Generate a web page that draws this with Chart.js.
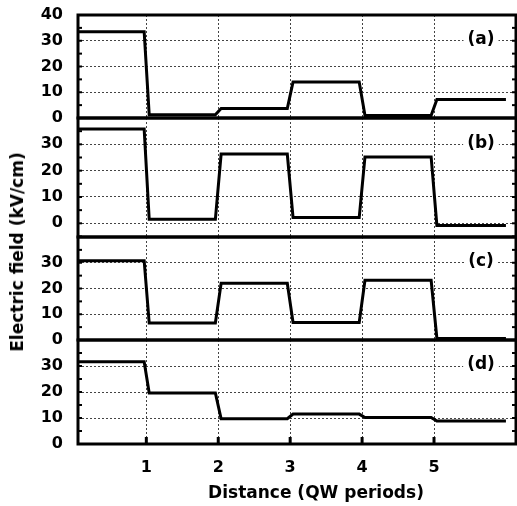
<!DOCTYPE html>
<html lang="en">
<head>
<meta charset="UTF-8">
<title>Electric field vs distance</title>
<style>
  body { margin: 0; background: #fff; }
  #wrap {
    position: relative;
    width: 517px;
    height: 506px;
    overflow: hidden;
    font-family: "DejaVu Sans", sans-serif;
    font-weight: bold;
    color: #000;
  }
  #wrap canvas { position: absolute; left: 0; }
  .axis-title { position: absolute; font-size: 17px; white-space: nowrap; }
  #xTitle { left: 316px; top: 492px; transform: translate(-50%, -50%); }
  #yTitle { left: 17px; top: 252px; transform: translate(-50%, -50%) rotate(-90deg); }
</style>
</head>
<body>
<div id="wrap">
  <canvas id="panelA"></canvas>
  <canvas id="panelB"></canvas>
  <canvas id="panelC"></canvas>
  <canvas id="panelD"></canvas>
  <div class="axis-title" id="yTitle">Electric field (kV/cm)</div>
  <div class="axis-title" id="xTitle">Distance (QW periods)</div>
</div>

<script src="https://cdn.jsdelivr.net/npm/chart.js"></script>
<script>
// data
const xTicks = [1, 2, 3, 4, 5];
const yTicks = [-5, 0, 5, 10, 15, 20, 25, 30, 35, 40];
const segStart = [0.05, 1.04, 2.04, 3.04, 4.04, 5.04];
const segEnd = [0.97, 1.96, 2.96, 3.96, 4.96, 6.0];
const fieldA = [33.5, 1.3, 3.7, 14, 1, 7.2];
const fieldB = [35.8, 1.5, 26.3, 2.2, 25.2, -0.8];
const fieldC = [30.8, 6.6, 22, 6.8, 23.2, 0.6];
const fieldD = [31.6, 19.6, 9.7, 11.5, 10.2, 8.8];
const panelLabels = ['(a)', '(b)', '(c)', '(d)'];

const FONT = "'DejaVu Sans', sans-serif";
const PAD = 12;
const X_MIN = 0.05, X_MAX = 6.14;

// panel boxes in page pixels
const boxes = [
  { id: 'panelA', top: 15,  bottom: 118, yMin: 0,    showTop: true,  zeroGrid: false },
  { id: 'panelB', top: 118, bottom: 237, yMin: -5.2, showTop: false, zeroGrid: true },
  { id: 'panelC', top: 237, bottom: 340, yMin: 0,    showTop: false, zeroGrid: false },
  { id: 'panelD', top: 340, bottom: 444, yMin: 0,    showTop: false, zeroGrid: false }
];
const series = [fieldA, fieldB, fieldC, fieldD];

function stepPoints(levels) {
  const pts = [];
  levels.forEach((v, i) => {
    pts.push({ x: segStart[i], y: v });
    pts.push({ x: segEnd[i], y: v });
  });
  return pts;
}

const framePlugin = {
  id: 'frame',
  afterDraw(chart, args, opts) {
    const { ctx, chartArea: a, scales: { x, y } } = chart;
    ctx.save();
    ctx.strokeStyle = '#000';
    ctx.setLineDash([]);
    const seg = (x1, y1, x2, y2) => {
      ctx.beginPath(); ctx.moveTo(x1, y1); ctx.lineTo(x2, y2); ctx.stroke();
    };
    ctx.lineWidth = 2;
    y.ticks.forEach(t => {
      if (t.value <= y.min || t.value >= y.max) return;
      const py = y.getPixelForValue(t.value);
      seg(a.left, py, a.left + 4, py);
      seg(a.right - 4, py, a.right, py);
    });
    if (opts.bottomTicks) {
      ctx.lineWidth = 3;
      xTicks.forEach(v => {
        const px = x.getPixelForValue(v);
        seg(px, a.bottom, px, a.bottom - 7);
      });
    }
    ctx.lineWidth = 3;
    ctx.strokeRect(a.left, a.top, a.right - a.left, a.bottom - a.top);

    // panel tag on the 30 grid line
    ctx.font = 'bold 17px ' + FONT;
    ctx.textAlign = 'center';
    ctx.textBaseline = 'middle';
    const tx = 481, ty = y.getPixelForValue(30) - 1;
    const w = ctx.measureText(opts.label).width;
    ctx.fillStyle = '#fff';
    ctx.fillRect(tx - w / 2 - 4, ty - 10, w + 8, 20);
    ctx.fillStyle = '#000';
    ctx.fillText(opts.label, tx, ty);
    ctx.restore();
  }
};

boxes.forEach((b, i) => {
  const isLast = i === boxes.length - 1;
  const canvas = document.getElementById(b.id);
  const h = (b.bottom - b.top) + PAD + (isLast ? 506 - b.bottom : PAD);
  canvas.width = 517;
  canvas.height = h;
  canvas.style.top = (b.top - PAD) + 'px';

  new Chart(canvas, {
    type: 'line',
    data: {
      datasets: [{
        label: panelLabels[i],
        data: stepPoints(series[i]),
        borderColor: '#000',
        borderWidth: 3,
        pointRadius: 0,
        tension: 0,
        fill: false
      }]
    },
    options: {
      responsive: false,
      animation: false,
      layout: { padding: { top: PAD, bottom: isLast ? 0 : PAD, left: 0, right: 1 } },
      plugins: {
        legend: { display: false },
        tooltip: { enabled: false },
        frame: { label: panelLabels[i], bottomTicks: isLast }
      },
      scales: {
        x: {
          type: 'linear',
          min: X_MIN,
          max: X_MAX,
          afterBuildTicks: s => { s.ticks = xTicks.map(v => ({ value: v })); },
          afterFit: s => { s.height = isLast ? 62 : 0; s.paddingLeft = 0; s.paddingRight = 0; },
          grid: { color: '#444', lineWidth: 1, drawTicks: false },
          border: { display: false, dash: [2, 2] },
          ticks: {
            display: isLast,
            autoSkip: false,
            padding: 14,
            color: '#000',
            maxRotation: 0,
            font: { family: FONT, size: 16, weight: 'bold' }
          }
        },
        y: {
          type: 'linear',
          min: b.yMin,
          max: 40,
          afterBuildTicks: s => {
            s.ticks = yTicks.filter(v => v >= s.min && v <= s.max).map(v => ({ value: v }));
          },
          afterFit: s => { s.width = 78; s.paddingTop = 0; s.paddingBottom = 0; },
          grid: {
            lineWidth: 1,
            drawTicks: false,
            color: c => {
              const v = c.tick ? c.tick.value : null;
              return (v === 10 || v === 20 || v === 30 || (b.zeroGrid && v === 0)) ? '#444' : 'rgba(0,0,0,0)';
            }
          },
          border: { display: false, dash: [2, 2] },
          ticks: {
            autoSkip: false,
            padding: 15,
            color: '#000',
            font: { family: FONT, size: 16, weight: 'bold' },
            callback: v => (v % 10 === 0 && v >= 0 && (v < 40 || b.showTop)) ? String(v) : ''
          }
        }
      }
    },
    plugins: [framePlugin]
  });
});
</script>
</body>
</html>
